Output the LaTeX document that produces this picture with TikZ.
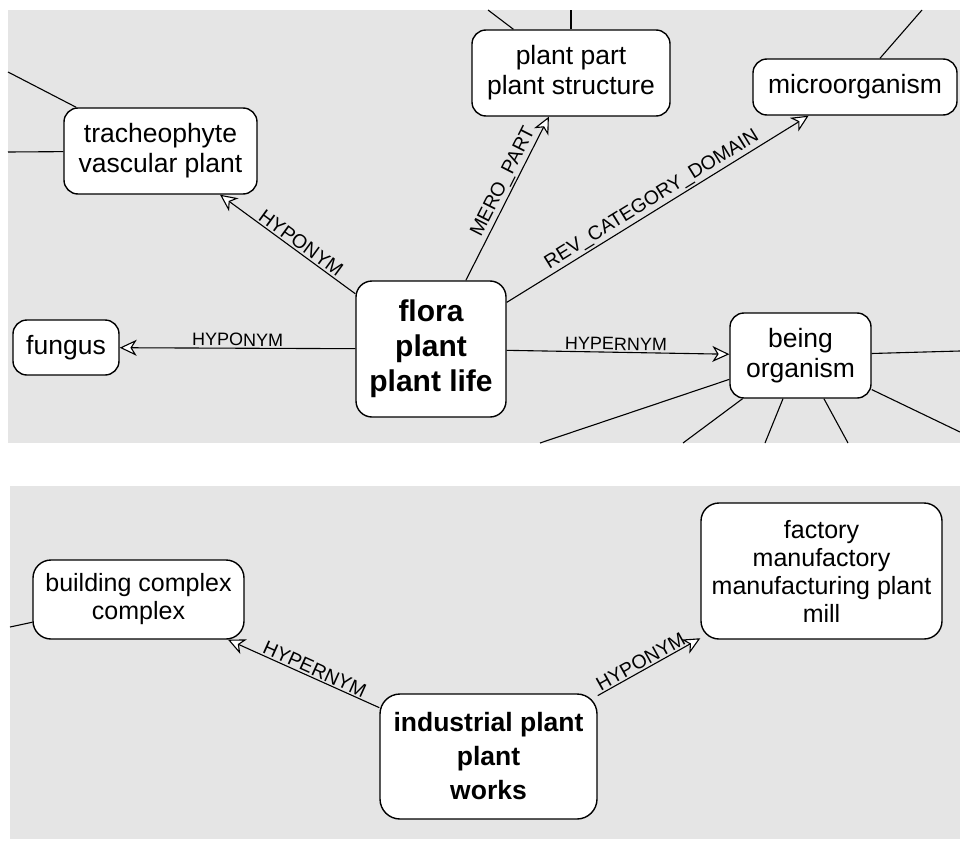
\documentclass[tikz,border=0pt]{standalone}
\usepackage{fontspec}
\setmainfont{Liberation Sans}
\usetikzlibrary{arrows.meta}
\definecolor{panelgray}{RGB}{229,229,229}
\begin{document}
\begin{tikzpicture}[x=1pt,y=-1pt,
  term/.style={draw=black, line width=1.4pt, fill=white, rounded corners=14pt,
    inner sep=0pt, align=center, font=\fontsize{26.5}{30}\selectfont},
  lowterm/.style={term, rounded corners=18pt, font=\fontsize{25}{28}\selectfont},
  focus/.style={term, rounded corners=16pt, font=\fontsize{30}{35}\selectfont\bfseries},
  lowfocus/.style={term, rounded corners=20pt, font=\fontsize{26.5}{34}\selectfont\bfseries},
  rel/.style={line width=1.1pt, -{Stealth[fill=white, length=17pt, width=16pt, inset=5pt, line width=1.1pt]}},
  dangle/.style={line width=1.1pt},
  lab/.style={font=\fontsize{18}{18}\selectfont, sloped, above, inner sep=1.5pt},
  slab/.style={lab, font=\fontsize{19.5}{19.5}\selectfont}
]
\useasboundingbox (0,0) rectangle (960,840);
\fill[white] (0,0) rectangle (960,840);
\fill[panelgray] (8,10) rectangle (960,443);
\fill[panelgray] (10,486) rectangle (960,839);

% dangling endpoints
\coordinate (tA) at (8,72);
\coordinate (tB) at (8,152);
\coordinate (pA) at (488,10);
\coordinate (pB) at (571,10);
\coordinate (mA) at (922,10);
\coordinate (bA) at (960,351);
\coordinate (bB) at (540,443);
\coordinate (bC) at (683,443);
\coordinate (bD) at (765,443);
\coordinate (bE) at (848,443);
\coordinate (bF) at (960,432);
\coordinate (cA) at (10,627);

% top panel
\node[term, minimum width=193pt, minimum height=86pt] (trach) at (160.5,151) {tracheophyte\\vascular plant};
\node[term, minimum width=198pt, minimum height=86pt] (part) at (571,73) {plant part\\plant structure};
\node[term, minimum width=204pt, minimum height=56pt] (micro) at (855,87) {microorganism};
\node[term, minimum width=106pt, minimum height=55pt] (fungus) at (66,347.5) {fungus};
\node[focus, minimum width=150pt, minimum height=136pt] (flora) at (431,349) {flora\\plant\\plant life};
\node[term, minimum width=141pt, minimum height=85pt] (being) at (800.5,355.5) {being\\organism};

% bottom panel
\node[lowterm, minimum width=211pt, minimum height=79pt] (bcomplex) at (138.5,599.5) {building complex\\complex};
\node[lowfocus, minimum width=217pt, minimum height=125pt] (indus) at (488.5,756.5) {industrial plant\\plant\\works};
\node[lowterm, minimum width=241pt, minimum height=136pt] (factory) at (821.5,571) {factory\\manufactory\\manufacturing plant\\mill};

% dangling connectors
\draw[dangle] (trach) -- (tA);
\draw[dangle] (trach) -- (tB);
\draw[dangle] (part) -- (pA);
\draw[dangle] (part) -- (pB);
\draw[dangle] (micro) -- (mA);
\draw[dangle] (being) -- (bA);
\draw[dangle] (being) -- (bB);
\draw[dangle] (being) -- (bC);
\draw[dangle] (being) -- (bD);
\draw[dangle] (being) -- (bE);
\draw[dangle] (being) -- (bF);
\draw[dangle] (bcomplex) -- (cA);

% relations
\draw[rel] (flora) -- node[slab, pos=0.44] {HYPONYM} (trach);
\draw[rel] (flora) -- node[lab, pos=0.5] {HYPONYM} (fungus);
\draw[rel] (flora) -- node[slab, pos=0.57] {MERO\_PART} (part);
\draw[rel] (flora) -- node[slab, pos=0.5] {REV\_CATEGORY\_DOMAIN} (micro);
\draw[rel] (flora) -- node[lab, pos=0.49] {HYPERNYM} (being);
\draw[rel] (indus) -- node[slab, pos=0.45] {HYPERNYM} (bcomplex);
\draw[rel] (indus) -- node[slab, pos=0.46] {HYPONYM} (factory);
\end{tikzpicture}
\end{document}
